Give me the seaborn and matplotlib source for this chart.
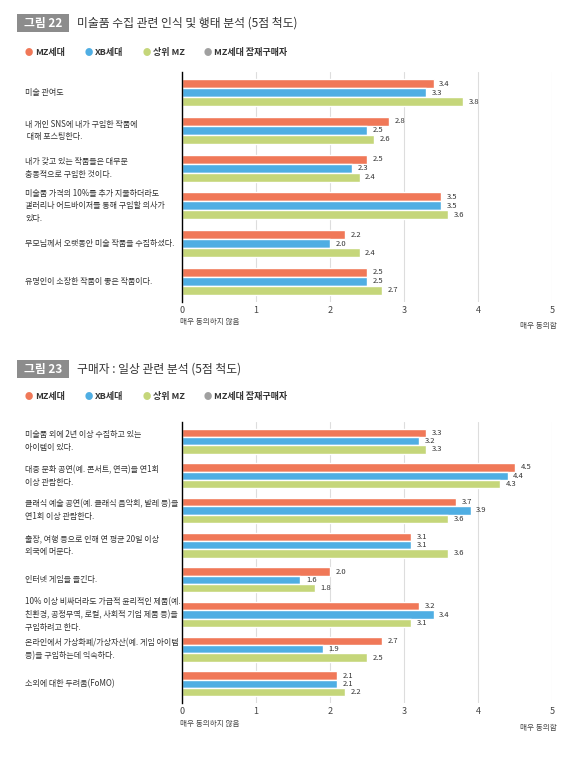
import matplotlib
matplotlib.use("Agg")
import matplotlib.pyplot as plt
import matplotlib.transforms as mtrans
from matplotlib.patches import FancyBboxPatch
import seaborn as sns
import pandas as pd

sns.set_style("white")
plt.rcParams['font.family'] = ['Noto Sans CJK KR', 'DejaVu Sans']

series = ["MZ세대", "XB세대", "상위 MZ"]
legend_names = ["MZ세대", "XB세대", "상위 MZ", "MZ세대 잠재구매자"]
colors = ["#F07858", "#4FAEE3", "#C5D67A", "#A0A0A0"]

cats1 = ["미술 관여도",
         "내 개인 SNS에 내가 구입한 작품에\n 대해 포스팅한다.",
         "내가 갖고 있는 작품들은 대부분\n충동적으로 구입한 것이다.",
         "미술품 가격의 10%를 추가 지불하더라도\n갤러리나 어드바이저를 통해 구입할 의사가\n있다.",
         "부모님께서 오랫동안 미술 작품을 수집하셨다.",
         "유명인이 소장한 작품이 좋은 작품이다."]
mz1 = [3.4, 2.8, 2.5, 3.5, 2.2, 2.5]
xb1 = [3.3, 2.5, 2.3, 3.5, 2.0, 2.5]
top1 = [3.8, 2.6, 2.4, 3.6, 2.4, 2.7]

cats2 = ["미술품 외에 2년 이상 수집하고 있는\n아이템이 있다.",
         "대중 문화 공연(예. 콘서트, 연극)을 연1회\n이상 관람한다.",
         "클래식 예술 공연(예. 클래식 음악회, 발레 등)을\n연1회 이상 관람한다.",
         "출장, 여행 등으로 인해 연 평균 20일 이상\n외국에 머문다.",
         "인터넷 게임을 즐긴다.",
         "10% 이상 비싸더라도 가급적 윤리적인 제품(예.\n친환경, 공정무역, 로컬, 사회적 기업 제품 등)을\n구입하려고 한다.",
         "온라인에서 가상화폐/가상자산(예. 게임 아이템\n등)을 구입하는데 익숙하다.",
         "소외에 대한 두려움(FoMO)"]
mz2 = [3.3, 4.5, 3.7, 3.1, 2.0, 3.2, 2.7, 2.1]
xb2 = [3.2, 4.4, 3.9, 3.1, 1.6, 3.4, 1.9, 2.1]
top2 = [3.3, 4.3, 3.6, 3.6, 1.8, 3.1, 2.5, 2.2]

ticks = [0, 1, 2, 3, 4, 5]
title1 = ("그림 22", "미술품 수집 관련 인식 및 행태 분석 (5점 척도)")
title2 = ("그림 23", "구매자 : 일상 관련 분석 (5점 척도)")

W, H = 575, 757
fig = plt.figure(figsize=(W / 100, H / 100), dpi=100)

def px(x, y):
    return x / W, 1 - y / H

def header(title, y_title, y_leg):
    bx, by = px(17, y_title + 9)
    fig.patches.append(FancyBboxPatch((bx, by), 52 / W, 18 / H, boxstyle="square,pad=0",
                                      transform=fig.transFigure, fc="#8C8C8C", ec="none"))
    fig.text(*px(43, y_title), title[0], color="white", fontsize=8.5, ha="center", va="center", weight="bold")
    fig.text(*px(77, y_title), title[1], color="#333333", fontsize=8.5, ha="left", va="center")
    xs = [25, 85, 143, 204]
    for x, n, c in zip(xs, legend_names, colors):
        fig.text(*px(x, y_leg), "●", color=c, fontsize=6, ha="left", va="center")
        fig.text(*px(x + 10, y_leg), n, color="#333333", fontsize=6.5, ha="left", va="center", weight="bold")

def chart(cats, mz, xb, top, ytop, ybot, ylabs):
    l, b = px(182, ybot)
    ax = fig.add_axes([l, b, 370 / W, (ybot - ytop) / H])
    df = pd.DataFrame({"cat": cats * 3, "val": mz + xb + top,
                       "series": [series[0]] * len(cats) + [series[1]] * len(cats) + [series[2]] * len(cats)})
    sns.barplot(data=df, y="cat", x="val", hue="series", palette=colors[:3], orient="h",
                width=0.72, ax=ax, legend=False, saturation=1)
    for cont in ax.containers:
        ax.bar_label(cont, fmt="%.1f", padding=4, fontsize=5.5, color="#333333")
    ax.set_xlim(0, 5)
    ax.set_xticks(ticks)
    ax.set_xticklabels([str(t) for t in ticks], fontsize=6.5, color="#444444")
    ax.set_ylim(len(cats) - 0.45, -0.55)
    ax.set_yticks([])
    ax.set_xlabel(""); ax.set_ylabel("")
    ax.grid(axis="x", color="#DDDDDD", lw=0.8)
    ax.set_axisbelow(True)
    for s in ["top", "right", "bottom"]:
        ax.spines[s].set_visible(False)
    ax.spines["left"].set_color("black")
    ax.spines["left"].set_linewidth(1)
    ax.tick_params(axis="x", length=0, pad=3)
    tr = mtrans.blended_transform_factory(fig.transFigure, ax.transData)
    for i, c in enumerate(cats):
        ax.text(25 / W, i, c, transform=tr, fontsize=5.8, color="#333333",
                ha="left", va="center", linespacing=1.55)
    fig.text(*px(180, ylabs), "매우 동의하지 않음", fontsize=5.5, color="#444444", ha="left", va="center")
    fig.text(*px(557, ylabs + 4), "매우 동의함", fontsize=5.5, color="#444444", ha="right", va="center")

header(title1, 23, 52)
chart(cats1, mz1, xb1, top1, 72, 302, 322)
header(title2, 369, 396)
chart(cats2, mz2, xb2, top2, 422, 703, 724)

fig.savefig("out.png", dpi=100, facecolor="white")
